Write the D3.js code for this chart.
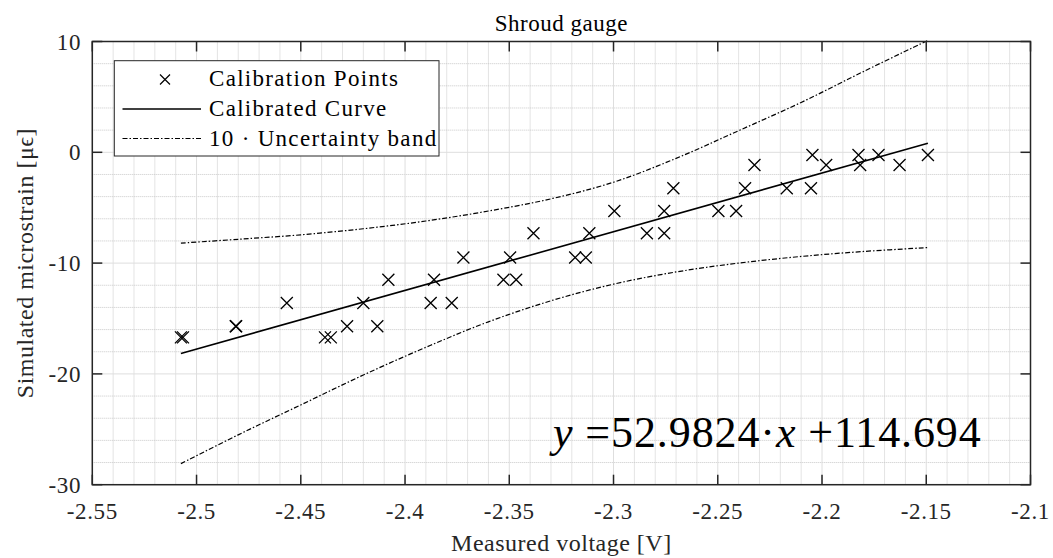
<!DOCTYPE html>
<html>
<head>
<meta charset="utf-8">
<script src="https://cdn.jsdelivr.net/npm/d3@7"></script>
<style>
	body { margin: 0; background: #fff; }
	svg { display: block; font-family: 'Liberation Serif', 'DejaVu Serif', serif; }
</style>
</head>
<body>
<svg id="chart" width="1053" height="558"></svg>
<script>
// calibration points
const voltage = [-2.5075, -2.5065, -2.4812, -2.4810, -2.4567, -2.4384, -2.4356, -2.4278, -2.4200, -2.4133,
	-2.4080, -2.3877, -2.3861, -2.3776, -2.3720, -2.3528, -2.3496, -2.3467, -2.3384, -2.3184,
	-2.3133, -2.3116, -2.2996, -2.2840, -2.2757, -2.2757, -2.2713, -2.2497, -2.2412, -2.2369,
	-2.2324, -2.2169, -2.2053, -2.2046, -2.1980, -2.1825, -2.1817, -2.1729, -2.1628, -2.1492]
const strain = [-16.7, -16.7, -15.7, -15.7, -13.6, -16.7, -16.7, -15.7, -13.6, -15.7,
	-11.5, -13.6, -11.5, -13.6, -9.5, -11.5, -9.5, -11.5, -7.3, -9.5,
	-9.5, -7.3, -5.3, -7.3, -7.3, -5.3, -3.25, -5.3, -5.3, -3.25,
	-1.15, -3.25, -3.25, -0.24, -1.15, -0.24, -1.15, -0.24, -1.15, -0.24]

// fitted line end points
const fitX = [-2.5075, -2.1492]
const fitY = [-18.16, 0.82]

// 10x uncertainty band
const bandX = [-2.5075, -2.48, -2.45, -2.42, -2.39, -2.36, -2.33, -2.30, -2.27, -2.24, -2.21, -2.18, -2.1492]
const bandUpper = [-8.2, -7.85, -7.45, -6.9, -6.2, -5.3, -4.2, -2.7, -0.55, 1.95, 4.5, 7.3, 10.1]
const bandLower = [-28.1, -25.5, -22.8, -20.1, -17.6, -15.3, -13.4, -11.9, -10.8, -10.0, -9.4, -8.95, -8.6]

const xTicks = [-2.55, -2.5, -2.45, -2.4, -2.35, -2.3, -2.25, -2.2, -2.15, -2.1]
const xTickLabels = ['-2.55', '-2.5', '-2.45', '-2.4', '-2.35', '-2.3', '-2.25', '-2.2', '-2.15', '-2.1']
const yTicks = [-30, -20, -10, 0, 10]
const yTickLabels = ['-30', '-20', '-10', '0', '10']
const legendLabels = ['Calibration Points', 'Calibrated Curve', '10 \u00b7 Uncertainty band']

const svg = d3.select('#chart')
const plotL = 92.3, plotR = 1030.5, plotT = 41.5, plotB = 484.7
const axisColor = '#262626'

const x = d3.scaleLinear().domain([-2.55, -2.1]).range([plotL, plotR])
const y = d3.scaleLinear().domain([-30, 10]).range([plotB, plotT])

// grid: minor dotted, major solid
const minorX = d3.range(-2.55, -2.0999, 0.01).filter(v => !xTicks.some(t => Math.abs(t - v) < 1e-6))
const minorY = d3.range(-30, 10.001, 2).filter(v => !yTicks.some(t => Math.abs(t - v) < 1e-6))

const grid = svg.append('g')
grid.selectAll('.mx').data(minorX).enter().append('line')
	.attr('x1', d => x(d)).attr('x2', d => x(d)).attr('y1', plotT).attr('y2', plotB)
	.attr('stroke', '#c8c8c8').attr('stroke-width', 1).attr('stroke-dasharray', '1,1')
grid.selectAll('.my').data(minorY).enter().append('line')
	.attr('y1', d => y(d)).attr('y2', d => y(d)).attr('x1', plotL).attr('x2', plotR)
	.attr('stroke', '#c8c8c8').attr('stroke-width', 1).attr('stroke-dasharray', '1,1')
grid.selectAll('.gx').data(xTicks).enter().append('line')
	.attr('x1', d => x(d)).attr('x2', d => x(d)).attr('y1', plotT).attr('y2', plotB)
	.attr('stroke', '#dedede').attr('stroke-width', 1)
grid.selectAll('.gy').data(yTicks).enter().append('line')
	.attr('y1', d => y(d)).attr('y2', d => y(d)).attr('x1', plotL).attr('x2', plotR)
	.attr('stroke', '#dedede').attr('stroke-width', 1)

// uncertainty band
const bandLine = d3.line().curve(d3.curveCatmullRom)
const dashDot = '5,2,1.5,2'
svg.append('path')
	.attr('d', bandLine(bandX.map((v, i) => [x(v), y(bandUpper[i])])))
	.attr('fill', 'none').attr('stroke', '#000').attr('stroke-width', 1.2).attr('stroke-dasharray', dashDot)
svg.append('path')
	.attr('d', bandLine(bandX.map((v, i) => [x(v), y(bandLower[i])])))
	.attr('fill', 'none').attr('stroke', '#000').attr('stroke-width', 1.2).attr('stroke-dasharray', dashDot)

// calibrated curve
svg.append('path')
	.attr('d', d3.line()(fitX.map((v, i) => [x(v), y(fitY[i])])))
	.attr('fill', 'none').attr('stroke', '#000').attr('stroke-width', 1.6)

// markers
const cross = (cx, cy, s) => `M${cx - s},${cy - s}L${cx + s},${cy + s}M${cx - s},${cy + s}L${cx + s},${cy - s}`
svg.append('g').selectAll('path').data(voltage).enter().append('path')
	.attr('d', (d, i) => cross(x(d), y(strain[i]), 6))
	.attr('stroke', '#000').attr('stroke-width', 1.3).attr('fill', 'none')

// axes box + inward ticks
const box = svg.append('g').attr('stroke', axisColor).attr('stroke-width', 1.5)
box.append('rect').attr('x', plotL).attr('y', plotT).attr('width', plotR - plotL).attr('height', plotB - plotT).attr('fill', 'none')
xTicks.forEach(t => {
	box.append('line').attr('x1', x(t)).attr('x2', x(t)).attr('y1', plotB).attr('y2', plotB - 10)
	box.append('line').attr('x1', x(t)).attr('x2', x(t)).attr('y1', plotT).attr('y2', plotT + 10)
})
yTicks.forEach(t => {
	box.append('line').attr('y1', y(t)).attr('y2', y(t)).attr('x1', plotL).attr('x2', plotL + 10)
	box.append('line').attr('y1', y(t)).attr('y2', y(t)).attr('x1', plotR).attr('x2', plotR - 10)
})

// tick labels
svg.append('g').selectAll('text').data(xTicks).enter().append('text')
	.attr('x', d => x(d)).attr('y', 519).attr('text-anchor', 'middle')
	.attr('font-size', 23).attr('fill', axisColor).attr('letter-spacing', 0.6)
	.text((d, i) => xTickLabels[i])
svg.append('g').selectAll('text').data(yTicks).enter().append('text')
	.attr('x', 81).attr('y', d => y(d) + 8).attr('text-anchor', 'end')
	.attr('font-size', 23).attr('fill', axisColor).attr('letter-spacing', 0.6)
	.text((d, i) => yTickLabels[i])

// title and axis labels
svg.append('text').attr('x', (plotL + plotR) / 2).attr('y', 31).attr('text-anchor', 'middle')
	.attr('font-size', 23).attr('letter-spacing', 0.5).attr('fill', '#000').text('Shroud gauge')
svg.append('text').attr('x', (plotL + plotR) / 2).attr('y', 551).attr('text-anchor', 'middle')
	.attr('font-size', 24).attr('letter-spacing', 0.5).attr('fill', axisColor).text('Measured voltage [V]')
svg.append('text').attr('transform', `translate(33,${(plotT + plotB) / 2}) rotate(-90)`).attr('text-anchor', 'middle')
	.attr('font-size', 24).attr('letter-spacing', 0.5).attr('fill', axisColor)
	.text('Simulated microstrain [\u03bc\u03f5]')

// legend
const legend = svg.append('g')
legend.append('rect').attr('x', 114.3).attr('y', 60.7).attr('width', 324.7).attr('height', 95.3)
	.attr('fill', '#fff').attr('stroke', axisColor).attr('stroke-width', 1)
legend.append('path').attr('d', cross(165, 79.5, 5)).attr('stroke', '#000').attr('stroke-width', 1.2)
legend.append('line').attr('x1', 122.5).attr('x2', 201).attr('y1', 109).attr('y2', 109)
	.attr('stroke', '#000').attr('stroke-width', 1.6)
legend.append('line').attr('x1', 122.5).attr('x2', 201).attr('y1', 138.5).attr('y2', 138.5)
	.attr('stroke', '#000').attr('stroke-width', 1.2).attr('stroke-dasharray', dashDot)
legend.selectAll('text').data(legendLabels).enter().append('text')
	.attr('x', 209).attr('y', (d, i) => 86 + i * 29.8)
	.attr('font-size', 23).attr('letter-spacing', 1.3).attr('fill', '#000')
	.text(d => d)

// fit equation
const eq = svg.append('text').attr('x', 553).attr('y', 447).attr('font-size', 44)
	.attr('letter-spacing', 0.9).attr('fill', '#000')
eq.append('tspan').attr('font-style', 'italic').text('y')
eq.append('tspan').text(' =52.9824\u00b7')
eq.append('tspan').attr('font-style', 'italic').text('x')
eq.append('tspan').text(' +114.694')
</script>
</body>
</html>
